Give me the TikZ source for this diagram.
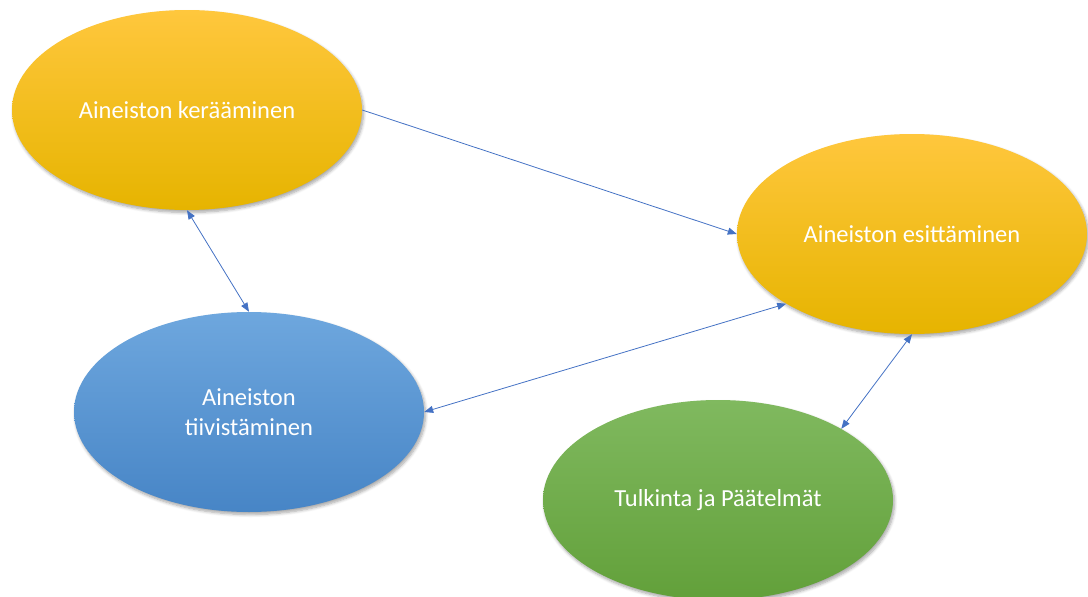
\documentclass[tikz,border=0pt]{standalone}
\usepackage{fontspec}
\setmainfont{Carlito}
\usetikzlibrary{arrows.meta,shadows.blur,shapes.geometric}

\definecolor{linkblue}{HTML}{4472C4}
\definecolor{goldtop}{HTML}{FFC73D}
\definecolor{goldmid}{HTML}{FFC000}
\definecolor{goldbot}{HTML}{E6B400}
\definecolor{bluetop}{HTML}{6EA7DE}
\definecolor{bluemid}{HTML}{5B9BD5}
\definecolor{bluebot}{HTML}{4785C6}
\definecolor{greentop}{HTML}{80B95F}
\definecolor{greenmid}{HTML}{70AD47}
\definecolor{greenbot}{HTML}{62A03A}

\tikzset{
  phase/.style={ellipse, minimum width=350pt, minimum height=200pt, inner sep=0pt,
    text=white, align=center,
    font=\fontsize{24.5}{29.5}\selectfont,
    blur shadow={shadow xshift=1.5pt, shadow yshift=-2.5pt, shadow blur radius=3pt,
      shadow blur steps=6, shadow opacity=35}},
  gold/.style={phase, top color=goldtop, middle color=goldmid, bottom color=goldbot},
  bluephase/.style={phase, top color=bluetop, middle color=bluemid, bottom color=bluebot},
  greenphase/.style={phase, top color=greentop, middle color=greenmid, bottom color=greenbot},
  link/.style={draw=linkblue, line width=0.8pt,
    -{Triangle[length=9pt,width=7pt]}},
  biLink/.style={draw=linkblue, line width=0.8pt,
    {Triangle[length=9pt,width=7pt]}-{Triangle[length=9pt,width=7pt]}}
}

\begin{document}
\begin{tikzpicture}[x=1pt,y=1pt]
  \useasboundingbox (0,0) rectangle (1088,-597);

  \node[gold] (ker) at (187,-110) {Aineiston kerääminen};
  \node[gold] (esi) at (912,-234) {Aineiston esittäminen};
  \node[bluephase] (tii) at (249,-412) {Aineiston\\tiivistäminen};
  \node[greenphase] (tul) at (718,-500) {Tulkinta ja Päätelmät};

  \draw[link] (ker.east) -- (esi.west);
  \draw[biLink] (ker.south) -- (tii.north);
  \draw[biLink] (tii.east) -- (esi.209);
  \draw[biLink] (esi.south) -- (tul.30);
\end{tikzpicture}
\end{document}
